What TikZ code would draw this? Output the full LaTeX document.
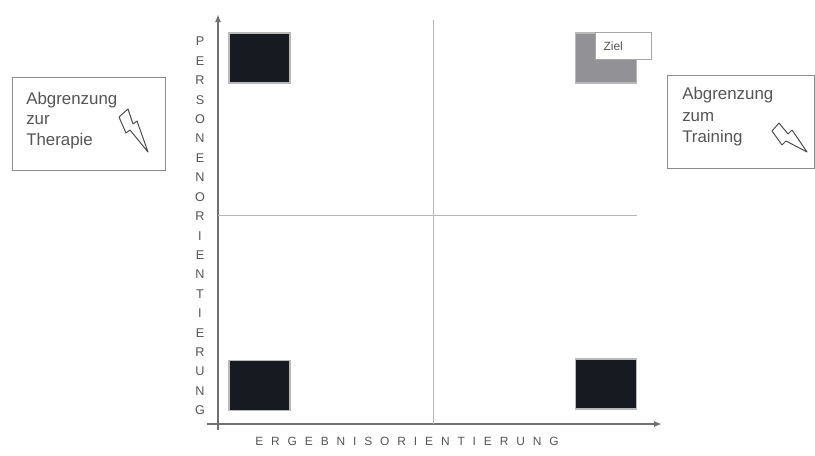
\documentclass[tikz,border=0pt]{standalone}
\usepackage{fontspec}
\setmainfont{Liberation Sans}
\newfontfamily\spacedfont[LetterSpace=66]{Liberation Sans}
\usetikzlibrary{arrows.meta, positioning, calc}
\definecolor{inkdark}{HTML}{171A21}
\definecolor{zielgray}{HTML}{929296}
\definecolor{axisgray}{HTML}{707070}
\definecolor{linegray}{HTML}{B8B8B8}
\definecolor{boxgray}{HTML}{8C8C8C}
\definecolor{labelgray}{HTML}{555555}

\begin{document}
\begin{tikzpicture}[x=0.025cm, y=-0.025cm, >={Latex[length=2mm, width=1.5mm]},
  field/.style={fill=inkdark, draw=gray!55, line width=0.8pt, minimum width=1.525cm, minimum height=1.25cm, inner sep=0pt},
  infobox/.style={draw=boxgray, line width=0.9pt, fill=white, inner sep=0pt},
  infotext/.style={anchor=north west, align=left, text=labelgray, inner sep=0pt, font=\fontsize{12}{14.5}\selectfont},
  bolt/.style={draw=gray!60!black, fill=white, line width=0.7pt, line join=round}]

\useasboundingbox (0,0) rectangle (815,455);

% Axes
\coordinate (ybot) at (218,430);
\coordinate (ytop) at (218,14);
\coordinate (xstart) at (207,424);
\coordinate (xend) at (662,424);
\draw[axisgray, line width=1.3pt, ->] (ybot) -- (ytop);
\draw[axisgray, line width=1.3pt, ->] (xstart) -- (xend);

% Quadrant lines
\coordinate (qtop) at (433,20);
\coordinate (qbot) at (433,424);
\coordinate (qleft) at (218,215);
\coordinate (qright) at (637,215);
\draw[linegray, line width=0.7pt] (qtop) -- (qbot);
\draw[linegray, line width=0.7pt] (qleft) -- (qright);

% Quadrant fields
\node[field] (sqTL) at (259.5,58) {};
\node[field] (sqBL) at (259.5,385.5) {};
\node[field] (sqBR) at (606,384) {};
\node[field, fill=zielgray] (sqZiel) at (606,58) {};
\node[draw=gray!70, fill=white, line width=0.8pt, anchor=north west, text width=1.0cm, inner xsep=0.2cm,
      minimum height=0.675cm, font=\fontsize{8.5}{10}\selectfont, text=labelgray] (ziel) at (595,32) {Ziel};

% Axis labels
\node[text=labelgray, align=center, font=\fontsize{9}{13.8}\selectfont] (ylabel) at (200,226)
  {P\\E\\R\\S\\O\\N\\E\\N\\O\\R\\I\\E\\N\\T\\I\\E\\R\\U\\N\\G};
\node[text=labelgray, font=\fontsize{8.5}{10}\spacedfont] (xlabel) at (407,441) {ERGEBNISORIENTIERUNG};

% Left box
\node[infobox, anchor=north west, minimum width=3.825cm, minimum height=2.325cm] (therapie) at (12,77) {};
\node[infotext] (therapietext) at (26,92) {Abgrenzung\\zur\\Therapie};
\draw[bolt] (119,117) -- (128,109) -- (133,124) -- (137,121) -- (148,152) -- (130,130) -- (126,133) -- cycle;

% Right box
\node[infobox, anchor=north west, minimum width=3.675cm, minimum height=2.325cm] (training) at (667,75) {};
\node[infotext, font=\fontsize{12}{15.3}\selectfont] (trainingtext) at (682,87) {Abgrenzung\\zum\\Training};
\draw[bolt] (772,131) -- (779,123) -- (788,134) -- (792,130) -- (807,152) -- (786,141) -- (782,145) -- cycle;

\end{tikzpicture}
\end{document}
